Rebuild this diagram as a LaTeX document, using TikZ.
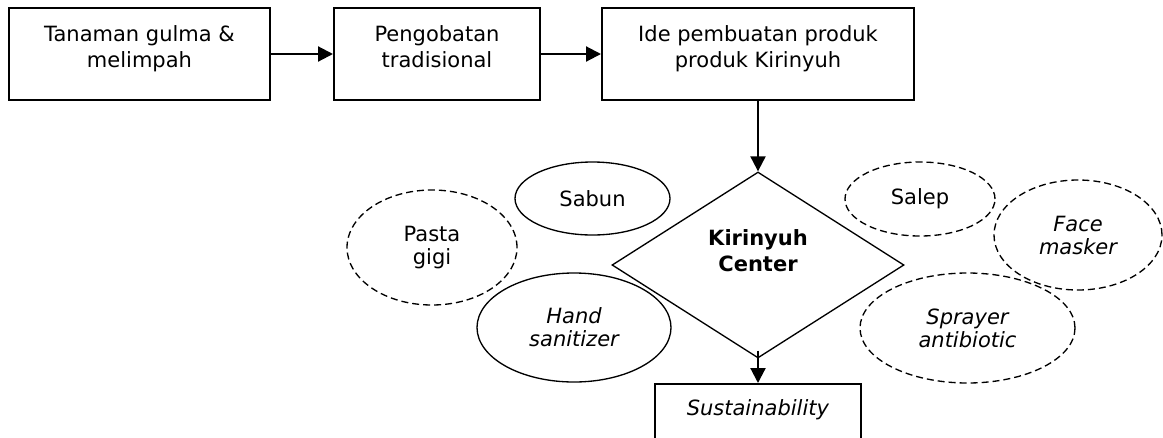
\documentclass[tikz,border=0pt]{standalone}
\usepackage{fontspec}
\setmainfont{DejaVu Sans}
\usetikzlibrary{shapes.geometric, arrows.meta}

\begin{document}
\begin{tikzpicture}[x=0.75pt, y=-0.75pt,
  font=\fontsize{15.75}{19.5}\selectfont,
  box/.style={draw, rectangle, line width=1.5pt, align=center, inner sep=0pt, minimum height=69pt, text depth=10.5pt},
  conn/.style={-{Triangle[length=11.25pt, width=11.25pt]}, line width=1.6pt},
  oval/.style={draw, ellipse, line width=1pt, align=center, inner sep=0pt, font=\fontsize{15.75}{17.25}\selectfont},
  slant/.style={font=\fontsize{15.75}{17.25}\selectfont\itshape},
  dashoval/.style={oval, dash pattern=on 5.25pt off 3pt}]
\clip (0,0) rectangle (1163,437);
% top row
\node (tanaman)[box, minimum width=195.75pt] at (139.5,54) {Tanaman gulma \&\\melimpah};
\node (pengobatan)[box, minimum width=154.5pt] at (437,54) {Pengobatan\\tradisional};
\node (ide)[box, minimum width=234pt] at (758,54) {Ide pembuatan produk\\produk Kirinyuh};
% centre
\node (kirinyuh)[draw, diamond, line width=1pt, align=center, inner sep=0pt, minimum width=219pt, minimum height=139.5pt, text depth=21pt, font=\fontsize{15.75}{19.5}\selectfont\bfseries] at (758,265) {Kirinyuh\\Center};
\node (sustain)[box, minimum width=154.5pt, minimum height=52.5pt, text depth=16.5pt] at (758,419) {\textit{Sustainability}};
% products
\node (sabun)[oval, minimum width=116.25pt, minimum height=54.75pt] at (592.5,198.5) {Sabun};
\node (pasta)[dashoval, minimum width=127.5pt, minimum height=86.25pt] at (432,247.5) {Pasta\\gigi};
\node (hand)[oval, slant, minimum width=145.5pt, minimum height=81.75pt] at (574,327.5) {Hand\\sanitizer};
\node (salep)[dashoval, minimum width=112.5pt, minimum height=55.5pt] at (920,199) {Salep};
\node (face)[dashoval, slant, minimum width=126pt, minimum height=82.5pt] at (1078,235) {Face\\masker};
\node (sprayer)[dashoval, slant, minimum width=161.25pt, minimum height=82.5pt] at (967.5,328) {Sprayer\\antibiotic};
% arrows
\draw[conn] (tanaman) -- (pengobatan);
\draw[conn] (pengobatan) -- (ide);
\draw[conn] (ide) -- (kirinyuh);
\draw[conn] ([yshift=6pt]kirinyuh.south) -- (sustain);
\end{tikzpicture}
\end{document}
